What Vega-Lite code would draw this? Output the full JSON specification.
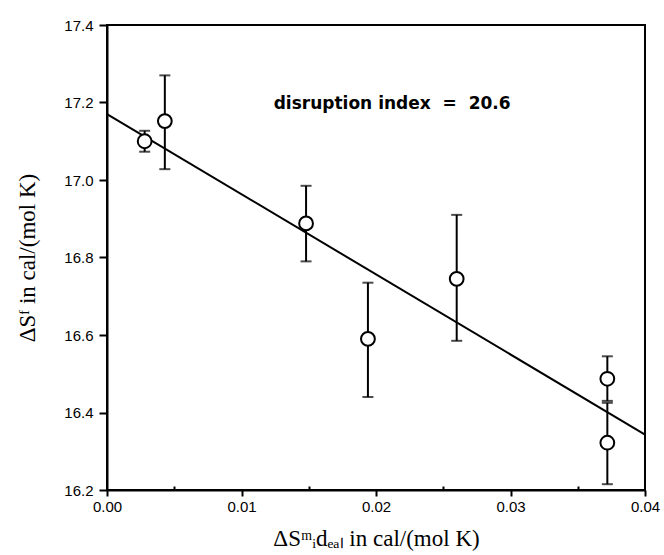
{
  "$schema": "https://vega.github.io/schema/vega-lite/v6.json",
  "autosize": "none",
  "width": 538,
  "height": 465,
  "padding": {"left": 107, "top": 25, "right": 19, "bottom": 65},
  "background": "white",
  "config": {
    "view": {"stroke": "black", "strokeWidth": 2},
    "axis": {
      "domainColor": "black", "domainWidth": 2, "tickColor": "black", "tickWidth": 2,
      "grid": false, "labelFont": "Liberation Sans", "labelFontSize": 15, "labelColor": "black",
      "titleFont": "Liberation Serif", "titleFontSize": 23, "titleFontWeight": "normal", "titleColor": "black"
    }
  },
  "datasets": {
    "pts": [
      {"x": 0.0028, "y": 17.100, "lo": 17.073, "hi": 17.127},
      {"x": 0.0043, "y": 17.152, "lo": 17.028, "hi": 17.270},
      {"x": 0.0148, "y": 16.888, "lo": 16.790, "hi": 16.985},
      {"x": 0.0194, "y": 16.590, "lo": 16.440, "hi": 16.735},
      {"x": 0.0260, "y": 16.745, "lo": 16.585, "hi": 16.910},
      {"x": 0.0372, "y": 16.487, "lo": 16.430, "hi": 16.545},
      {"x": 0.0372, "y": 16.322, "lo": 16.215, "hi": 16.425}
    ],
    "fit": [
      {"x": 0.0, "y": 17.170},
      {"x": 0.04, "y": 16.343}
    ],
    "note": [
      {"x": 0.0212, "y": 17.195, "label": "disruption index \u00a0=\u00a0 20.6"}
    ]
  },
  "layer": [
    {
      "data": {"name": "fit"},
      "mark": {"type": "line", "color": "black", "strokeWidth": 2},
      "encoding": {
        "x": {
          "field": "x", "type": "quantitative",
          "scale": {"domain": [0, 0.04], "nice": false, "zero": false},
          "axis": {
            "title": "ΔSᵐᵢdₑₐₗ in cal/(mol K)",
            "values": [0, 0.005, 0.01, 0.015, 0.02, 0.025, 0.03, 0.035, 0.04],
            "labelExpr": "abs(datum.value*100 - round(datum.value*100)) < 0.001 ? format(datum.value, '.2f') : ''",
            "tickSize": {"condition": {"test": "abs(datum.value*100 - round(datum.value*100)) < 0.001", "value": 6}, "value": -4},
            "labelFlush": false, "labelPadding": 3, "titlePadding": 13
          }
        },
        "y": {
          "field": "y", "type": "quantitative",
          "scale": {"domain": [16.2, 17.4], "nice": false, "zero": false},
          "axis": {
            "title": "ΔSᶠ in cal/(mol K)",
            "values": [16.2, 16.25, 16.3, 16.35, 16.4, 16.45, 16.5, 16.55, 16.6, 16.65, 16.7, 16.75, 16.8, 16.85, 16.9, 16.95, 17.0, 17.05, 17.1, 17.15, 17.2, 17.25, 17.3, 17.35, 17.4],
            "labelExpr": "abs(datum.value*5 - round(datum.value*5)) < 0.001 ? format(datum.value, '.1f') : ''",
            "tickSize": {"condition": {"test": "abs(datum.value*5 - round(datum.value*5)) < 0.001", "value": 8}, "value": -4},
            "labelFlush": false, "labelPadding": 6, "titlePadding": 24
          }
        }
      }
    },
    {
      "data": {"name": "pts"},
      "mark": {"type": "rule", "color": "black", "strokeWidth": 2},
      "encoding": {
        "x": {"field": "x", "type": "quantitative"},
        "y": {"field": "lo", "type": "quantitative"},
        "y2": {"field": "hi"}
      }
    },
    {
      "data": {"name": "pts"},
      "mark": {"type": "tick", "orient": "horizontal", "color": "black", "thickness": 2, "size": 11},
      "encoding": {
        "x": {"field": "x", "type": "quantitative"},
        "y": {"field": "lo", "type": "quantitative"}
      }
    },
    {
      "data": {"name": "pts"},
      "mark": {"type": "tick", "orient": "horizontal", "color": "black", "thickness": 2, "size": 11},
      "encoding": {
        "x": {"field": "x", "type": "quantitative"},
        "y": {"field": "hi", "type": "quantitative"}
      }
    },
    {
      "data": {"name": "pts"},
      "mark": {"type": "point", "shape": "circle", "filled": false, "fill": "white", "fillOpacity": 1, "stroke": "black", "strokeWidth": 2, "opacity": 1, "size": 190},
      "encoding": {
        "x": {"field": "x", "type": "quantitative"},
        "y": {"field": "y", "type": "quantitative"}
      }
    },
    {
      "data": {"name": "note"},
      "mark": {"type": "text", "font": "DejaVu Sans", "fontWeight": "bold", "fontSize": 17, "color": "black", "align": "center", "baseline": "middle"},
      "encoding": {
        "x": {"field": "x", "type": "quantitative"},
        "y": {"field": "y", "type": "quantitative"},
        "text": {"field": "label"}
      }
    }
  ]
}
